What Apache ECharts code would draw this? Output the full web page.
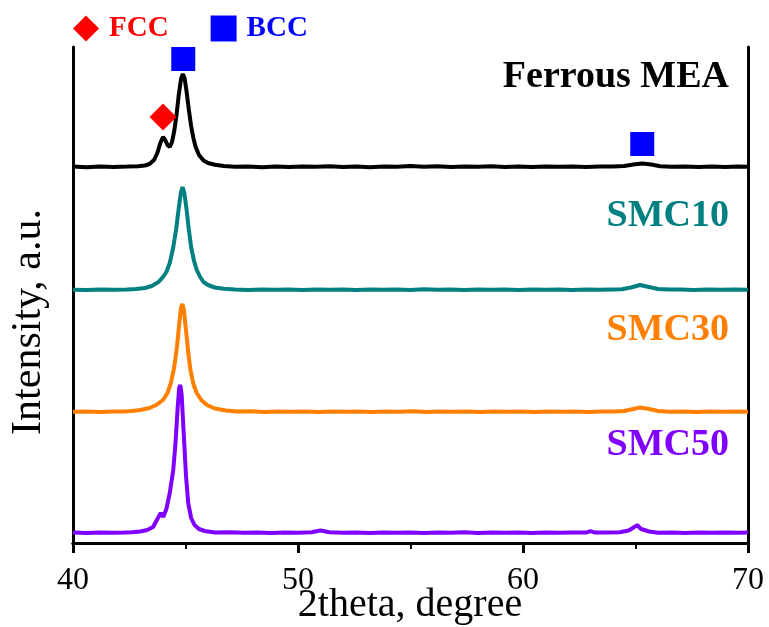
<!DOCTYPE html>
<html>

<head>
    <title>XRD patterns - Ferrous MEA and SMC</title>
    <meta charset="utf-8">
    <script src="https://cdn.jsdelivr.net/npm/echarts@6/dist/echarts.min.js"></script>
    <style>
        body { margin: 0; background: #fff; }
    </style>
</head>

<body>
    <!-- chart container, same size as the window -->
    <div id="main" style="width: 769px;height:627px;"></div>

    <script type="text/javascript">
        // pattern names and colours, top trace first
        var patternNames = ['Ferrous MEA', 'SMC10', 'SMC30', 'SMC50'];
        var patternColors = ['#000000', '#008080', '#ff8000', '#8000ff'];

        // vertical offset of each pattern (a.u.)
        var offsets = [376, 253, 131, 10];

        // [2theta, intensity], intensity above own baseline
        var ferrousMEA = [
            [40.0, 0.5], [40.6, -0.3], [41.2, 0.6], [41.8, 0], [42.4, 0.4], [42.9, 0.8], [43.2, 1.5],
            [43.4, 3], [43.6, 7], [43.75, 14], [43.88, 24], [44.0, 30], [44.1, 27], [44.2, 22],
            [44.3, 20], [44.4, 25], [44.5, 36], [44.6, 52], [44.7, 72], [44.8, 88], [44.88, 93],
            [44.96, 89], [45.05, 75], [45.15, 57], [45.25, 41], [45.35, 29], [45.45, 20], [45.6, 12],
            [45.8, 6.5], [46.0, 4], [46.3, 2.2], [46.7, 1], [47.2, 0.3], [47.8, 0.6], [48.4, -0.2],
            [49.0, 0.4], [49.6, 0], [50.2, 0.5], [50.8, 0.2], [51.4, 0.8], [52.0, 0.1], [52.6, 0.5],
            [53.2, -0.2], [53.8, 0.6], [54.4, 0.3], [55.0, 1], [55.6, 0.2], [56.2, 0.7], [56.8, 0],
            [57.4, 0.5], [58.0, 0.3], [58.6, 0.8], [59.2, 0.1], [59.8, 0.5], [60.4, -0.1], [61.0, 0.6],
            [61.6, 0.2], [62.2, 0.5], [62.8, 0.1], [63.4, 0.6], [64.0, 0.5], [64.5, 1], [64.9, 2.5],
            [65.3, 3.5], [65.7, 2.5], [66.1, 0.8], [66.6, 0.2], [67.2, 0.5], [67.8, 0], [68.4, 0.4],
            [69.0, 0.1], [69.5, 0.5], [70.0, 0.2]
        ];

        var smc10 = [
            [40.0, 0.3], [40.6, 0], [41.2, 0.5], [41.8, 0.2], [42.4, 0.6], [42.8, 1], [43.2, 2],
            [43.5, 4], [43.8, 8], [44.0, 13], [44.15, 18], [44.3, 27], [44.45, 42], [44.58, 60],
            [44.7, 82], [44.8, 98], [44.87, 103], [44.95, 97], [45.05, 80], [45.15, 60], [45.25, 43],
            [45.38, 29], [45.5, 20], [45.65, 13], [45.8, 8], [46.0, 5], [46.3, 2.5], [46.7, 1.2],
            [47.2, 0.5], [47.8, 0.1], [48.4, 0.6], [49.0, 0.2], [49.6, 0.5], [50.2, -0.1], [50.8, 0.6],
            [51.4, 0.3], [52.0, 0.5], [52.6, 0], [53.2, 0.6], [53.8, 0.2], [54.4, 0.5], [55.0, 0.1],
            [55.6, 0.7], [56.2, 0.2], [56.8, 0.5], [57.4, 0], [58.0, 0.6], [58.6, 0.2], [59.2, 0.4],
            [59.8, 0.1], [60.4, 0.6], [61.0, 0.2], [61.6, 0.5], [62.2, 0], [62.8, 0.6], [63.4, 0.3],
            [64.0, 0.6], [64.4, 0.8], [64.8, 2.5], [65.2, 5], [65.6, 3], [66.0, 1], [66.5, 0.4],
            [67.0, 0.6], [67.6, 0.1], [68.2, 0.5], [68.8, 0.2], [69.4, 0.6], [70.0, 0.2]
        ];

        var smc30 = [
            [40.0, 0.3], [40.6, 0.6], [41.2, 0.1], [41.8, 0.5], [42.3, 0.6], [42.6, 1], [43.0, 2],
            [43.4, 4], [43.7, 7], [44.0, 12], [44.2, 19], [44.35, 29], [44.5, 45], [44.62, 65],
            [44.72, 88], [44.8, 104], [44.86, 108], [44.93, 102], [45.02, 82], [45.12, 60], [45.22, 42],
            [45.35, 28], [45.5, 19], [45.7, 12], [45.95, 7], [46.3, 3.5], [46.8, 1.5], [47.3, 0.5],
            [47.9, 0.7], [48.5, 0.1], [49.1, 0.6], [49.7, 0.2], [50.3, 0.5], [50.9, 0], [51.5, 0.6],
            [52.1, 0.2], [52.7, 0.6], [53.3, 0.1], [53.9, 0.5], [54.5, 0.2], [55.1, 0.7], [55.7, 0.1],
            [56.3, 0.5], [56.9, 0.2], [57.5, 0.6], [58.1, 0], [58.7, 0.5], [59.3, 0.2], [59.9, 0.6],
            [60.5, 0.1], [61.1, 0.5], [61.7, 0.2], [62.3, 0.6], [62.9, 0.1], [63.5, 0.5], [64.1, 0.4],
            [64.5, 1], [64.9, 3], [65.2, 4.5], [65.6, 3], [66.0, 1], [66.5, 0.3], [67.1, 0.6],
            [67.7, 0.1], [68.3, 0.5], [68.9, 0.2], [69.5, 0.6], [70.0, 0.3]
        ];

        var smc50 = [
            [40.0, 0.5], [40.6, 0.1], [41.2, 0.6], [41.8, 0.2], [42.3, 0.5], [42.6, 0.8], [43.0, 1.5],
            [43.3, 3], [43.56, 6], [43.75, 14], [43.9, 20], [44.01, 16], [44.15, 24], [44.3, 40],
            [44.45, 62], [44.55, 88], [44.65, 125], [44.72, 145], [44.77, 148], [44.83, 138],
            [44.92, 100], [45.02, 58], [45.12, 30], [45.25, 15], [45.4, 8], [45.6, 4], [45.85, 2],
            [46.3, 0.6], [47.0, 0.8], [47.6, 0.2], [48.2, 0.6], [48.8, 0.1], [49.4, 0.5], [50.0, 0.3],
            [50.6, 0.8], [51.0, 2.5], [51.4, 0.8], [52.0, 0.3], [52.6, 0.6], [53.2, 0.1], [53.8, 0.5],
            [54.4, 0.2], [55.0, 0.6], [55.6, 0], [56.2, 0.5], [56.8, 0.2], [57.4, 0.7], [58.0, 0.1],
            [58.6, 0.5], [59.2, 0.2], [59.8, 0.6], [60.4, 0.1], [61.0, 0.5], [61.6, 0.3], [62.2, 0.6],
            [62.8, 0.4], [63.0, 1.8], [63.2, 0.4], [63.8, 0.6], [64.3, 0.8], [64.7, 2.5], [64.95, 6],
            [65.07, 8], [65.25, 4], [65.6, 1.5], [66.0, 0.3], [66.6, 0.6], [67.2, 0.1], [67.8, 0.5],
            [68.4, 0.2], [69.0, 0.6], [69.6, 0.2], [70.0, 0.5]
        ];

        // phase markers [2theta, plotted intensity]
        var fccMarks = [[44.0, 426]];
        var bccMarks = [[44.9, 484], [65.3, 399]];

        // axis range
        var xMin = 40, xMax = 70, xStep = 10;
        var yMin = 0, yMax = 496;

        var patterns = [ferrousMEA, smc10, smc30, smc50];
        var serif = "'Liberation Serif', 'Times New Roman', serif";

        var myChart = echarts.init(document.getElementById('main'));

        var series = patterns.map(function (p, i) {
            return {
                name: patternNames[i],
                type: 'line',
                data: p.map(function (d) { return [d[0], d[1] + offsets[i]]; }),
                symbol: 'none',
                lineStyle: { color: patternColors[i], width: 4 },
                itemStyle: { color: patternColors[i] },
                z: 2,
                silent: true
            };
        });

        series.push({
            name: 'FCC',
            type: 'scatter',
            data: fccMarks,
            symbol: 'diamond',
            symbolSize: 27,
            itemStyle: { color: '#ff0000', opacity: 1 },
            z: 5
        });
        series.push({
            name: 'BCC',
            type: 'scatter',
            data: bccMarks,
            symbol: 'rect',
            symbolSize: 24,
            itemStyle: { color: '#0000ff', opacity: 1 },
            z: 5
        });

        // labels next to each trace
        var labelTops = [77, 216, 330, 445];
        var labels = patternNames.map(function (n, i) {
            return {
                type: 'text',
                right: 40,
                top: labelTops[i] - 19,
                style: {
                    text: n,
                    fill: patternColors[i],
                    font: 'bold 38px ' + serif
                },
                z: 10
            };
        });
        // axis titles
        labels.push({
            type: 'text',
            left: 8,
            top: 209,
            rotation: Math.PI / 2,
            style: {
                text: 'Intensity, a.u.',
                fill: '#000',
                font: '42px ' + serif
            }
        });
        labels.push({
            type: 'text',
            x: 410,
            y: 605,
            style: {
                text: '2theta, degree',
                fill: '#000',
                font: '40px ' + serif,
                textAlign: 'center',
                textVerticalAlign: 'middle'
            }
        });

        var axisLine = { show: true, lineStyle: { color: '#000', width: 3 } };

        var option = {
            animation: false,
            backgroundColor: '#fff',
            grid: {
                left: 73, right: 21, top: 47, bottom: 84,
                containLabel: false,
                outerBoundsMode: 'none'
            },
            legend: {
                left: 73,
                top: 14,
                padding: 0,
                itemWidth: 26,
                itemHeight: 26,
                itemGap: 42,
                textStyle: {
                    fontFamily: serif,
                    fontSize: 29,
                    fontWeight: 'bold',
                    padding: [0, 0, 0, 5]
                },
                data: [
                    { name: 'FCC', icon: 'diamond', textStyle: { color: '#ff0000' } },
                    { name: 'BCC', icon: 'rect', textStyle: { color: '#0000ff' } }
                ]
            },
            xAxis: [{
                type: 'value',
                min: xMin,
                max: xMax,
                interval: xStep,
                axisLine: axisLine,
                axisTick: { show: true, inside: false, length: 10, lineStyle: { color: '#000', width: 3 } },
                minorTick: { show: true, splitNumber: 2, length: 6, lineStyle: { color: '#000', width: 2 } },
                axisLabel: { fontFamily: serif, fontSize: 32, color: '#000', margin: 22 },
                splitLine: { show: false }
            }, {
                type: 'value',
                position: 'top',
                min: xMin,
                max: xMax,
                axisLine: axisLine,
                axisTick: { show: false },
                axisLabel: { show: false },
                splitLine: { show: false }
            }],
            yAxis: [{
                type: 'value',
                min: yMin,
                max: yMax,
                axisLine: axisLine,
                axisTick: { show: false },
                axisLabel: { show: false },
                splitLine: { show: false }
            }, {
                type: 'value',
                position: 'right',
                min: yMin,
                max: yMax,
                axisLine: axisLine,
                axisTick: { show: false },
                axisLabel: { show: false },
                splitLine: { show: false }
            }],
            graphic: labels,
            series: series
        };

        myChart.setOption(option);
    </script>
</body>

</html>
